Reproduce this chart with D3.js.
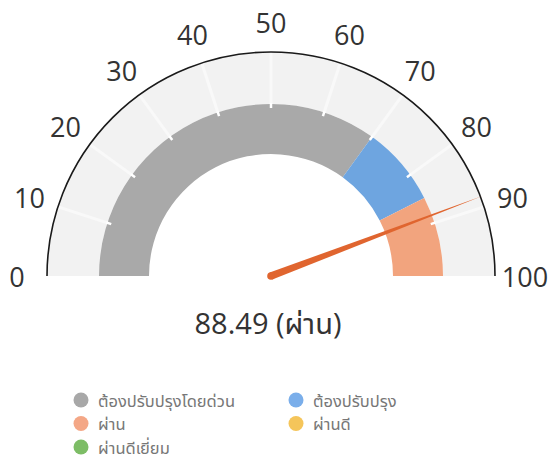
<!DOCTYPE html>
<html>
<head>
<meta charset="utf-8">
<script src="https://cdn.jsdelivr.net/npm/d3@7"></script>
<style>
  html, body { margin: 0; padding: 0; background: #fff; }
  svg { display: block; font-family: "Open Sans", "Noto Sans", "Noto Sans Thai", sans-serif; }
</style>
</head>
<body>
<svg id="chart" width="549" height="463"></svg>
<script>
// ---- data ----
const tickValues = [0, 10, 20, 30, 40, 50, 60, 70, 80, 90, 100];
const bandNames = ["ต้องปรับปรุงโดยด่วน", "ต้องปรับปรุง", "ผ่าน"];
const bandStarts = [0, 70, 85];
const bandEnds = [70, 85, 100];
const gaugeValue = 88.49;
const valueLabel = "ผ่าน";
const legendNames = ["ต้องปรับปรุงโดยด่วน", "ต้องปรับปรุง", "ผ่าน", "ผ่านดี", "ผ่านดีเยี่ยม"];
const legendColors = ["#a8a8a8", "#7aaeea", "#f4a786", "#f5c55a", "#7dbd66"];
const bandColors = ["#a9a9a9", "#6ea5e0", "#f2a47e"];

// ---- layout ----
const svg = d3.select("#chart");
const cx = 271, cy = 276;
const rOuter = 224, rBandOuter = 172, rBandInner = 122, rLabel = 254;

const angle = d3.scaleLinear().domain([0, 100]).range([-Math.PI / 2, Math.PI / 2]);
const g = svg.append("g").attr("transform", `translate(${cx},${cy})`);
const polar = (v, r) => [Math.sin(angle(v)) * r, -Math.cos(angle(v)) * r];

// light background band
g.append("path")
  .attr("d", d3.arc()({ innerRadius: rBandOuter, outerRadius: rOuter, startAngle: angle(0), endAngle: angle(100) }))
  .attr("fill", "#f2f2f2");

// colored bands
const bands = bandNames.map((n, i) => ({ name: n, start: bandStarts[i], end: bandEnds[i], color: bandColors[i] }));
g.selectAll("path.band").data(bands).join("path")
  .attr("class", "band")
  .attr("d", d => d3.arc()({ innerRadius: rBandInner, outerRadius: rBandOuter, startAngle: angle(d.start), endAngle: angle(d.end) }))
  .attr("fill", d => d.color);

// faint tick lines in the light band
g.selectAll("line.tickf").data(tickValues.slice(1, -1)).join("line")
  .attr("class", "tickf")
  .attr("x1", d => polar(d, rBandOuter)[0])
  .attr("y1", d => polar(d, rBandOuter)[1])
  .attr("x2", d => polar(d, rOuter - 1)[0])
  .attr("y2", d => polar(d, rOuter - 1)[1])
  .attr("stroke", "#f9f9f9")
  .attr("stroke-width", 3);

// notches in the colored band
g.selectAll("line.notch").data(tickValues.slice(1, -1)).join("line")
  .attr("class", "notch")
  .attr("x1", d => polar(d, rBandOuter - 4)[0])
  .attr("y1", d => polar(d, rBandOuter - 4)[1])
  .attr("x2", d => polar(d, rBandOuter + 1)[0])
  .attr("y2", d => polar(d, rBandOuter + 1)[1])
  .attr("stroke", "#fff")
  .attr("stroke-width", 2.5);

// outer black arc
g.append("path")
  .attr("d", d3.arc()({ innerRadius: rOuter, outerRadius: rOuter, startAngle: angle(0), endAngle: angle(100) }))
  .attr("fill", "none")
  .attr("stroke", "#1a1a1a")
  .attr("stroke-width", 1.6);

// tick labels
g.selectAll("text.tl").data(tickValues).join("text")
  .attr("class", "tl")
  .attr("x", d => polar(d, rLabel)[0])
  .attr("y", d => polar(d, rLabel)[1])
  .attr("text-anchor", "middle")
  .attr("dominant-baseline", "central")
  .attr("font-size", 27)
  .attr("fill", "#333")
  .text(d => d);

// needle
const a = angle(gaugeValue);
const tipR = rOuter + 2, baseW = 3.8;
const ux = Math.sin(a), uy = -Math.cos(a);
const px = -uy, py = ux;
const needle = [
  [px * baseW, py * baseW],
  [ux * tipR, uy * tipR],
  [-px * baseW, -py * baseW]
];
g.append("path")
  .attr("d", d3.line()(needle) + "Z")
  .attr("fill", "#e0652f");
g.append("circle").attr("r", baseW).attr("fill", "#e0652f");

// value label
svg.append("text")
  .attr("x", cx - 3)
  .attr("y", 322)
  .attr("text-anchor", "middle")
  .attr("dominant-baseline", "central")
  .attr("font-size", 29)
  .attr("fill", "#333")
  .text(`${gaugeValue} (${valueLabel})`);

// legend
const legend = svg.append("g");
const items = legendNames.map((n, i) => ({ name: n, color: legendColors[i], col: i % 2, row: Math.floor(i / 2) }));
const lg = legend.selectAll("g").data(items).join("g")
  .attr("transform", d => `translate(${d.col ? 296 : 81},${400 + d.row * 23.5})`);
lg.append("circle").attr("r", 7.5).attr("fill", d => d.color);
lg.append("text")
  .attr("x", 17)
  .attr("dominant-baseline", "central")
  .attr("font-size", 16.5)
  .attr("fill", "#777")
  .text(d => d.name);
</script>
</body>
</html>
